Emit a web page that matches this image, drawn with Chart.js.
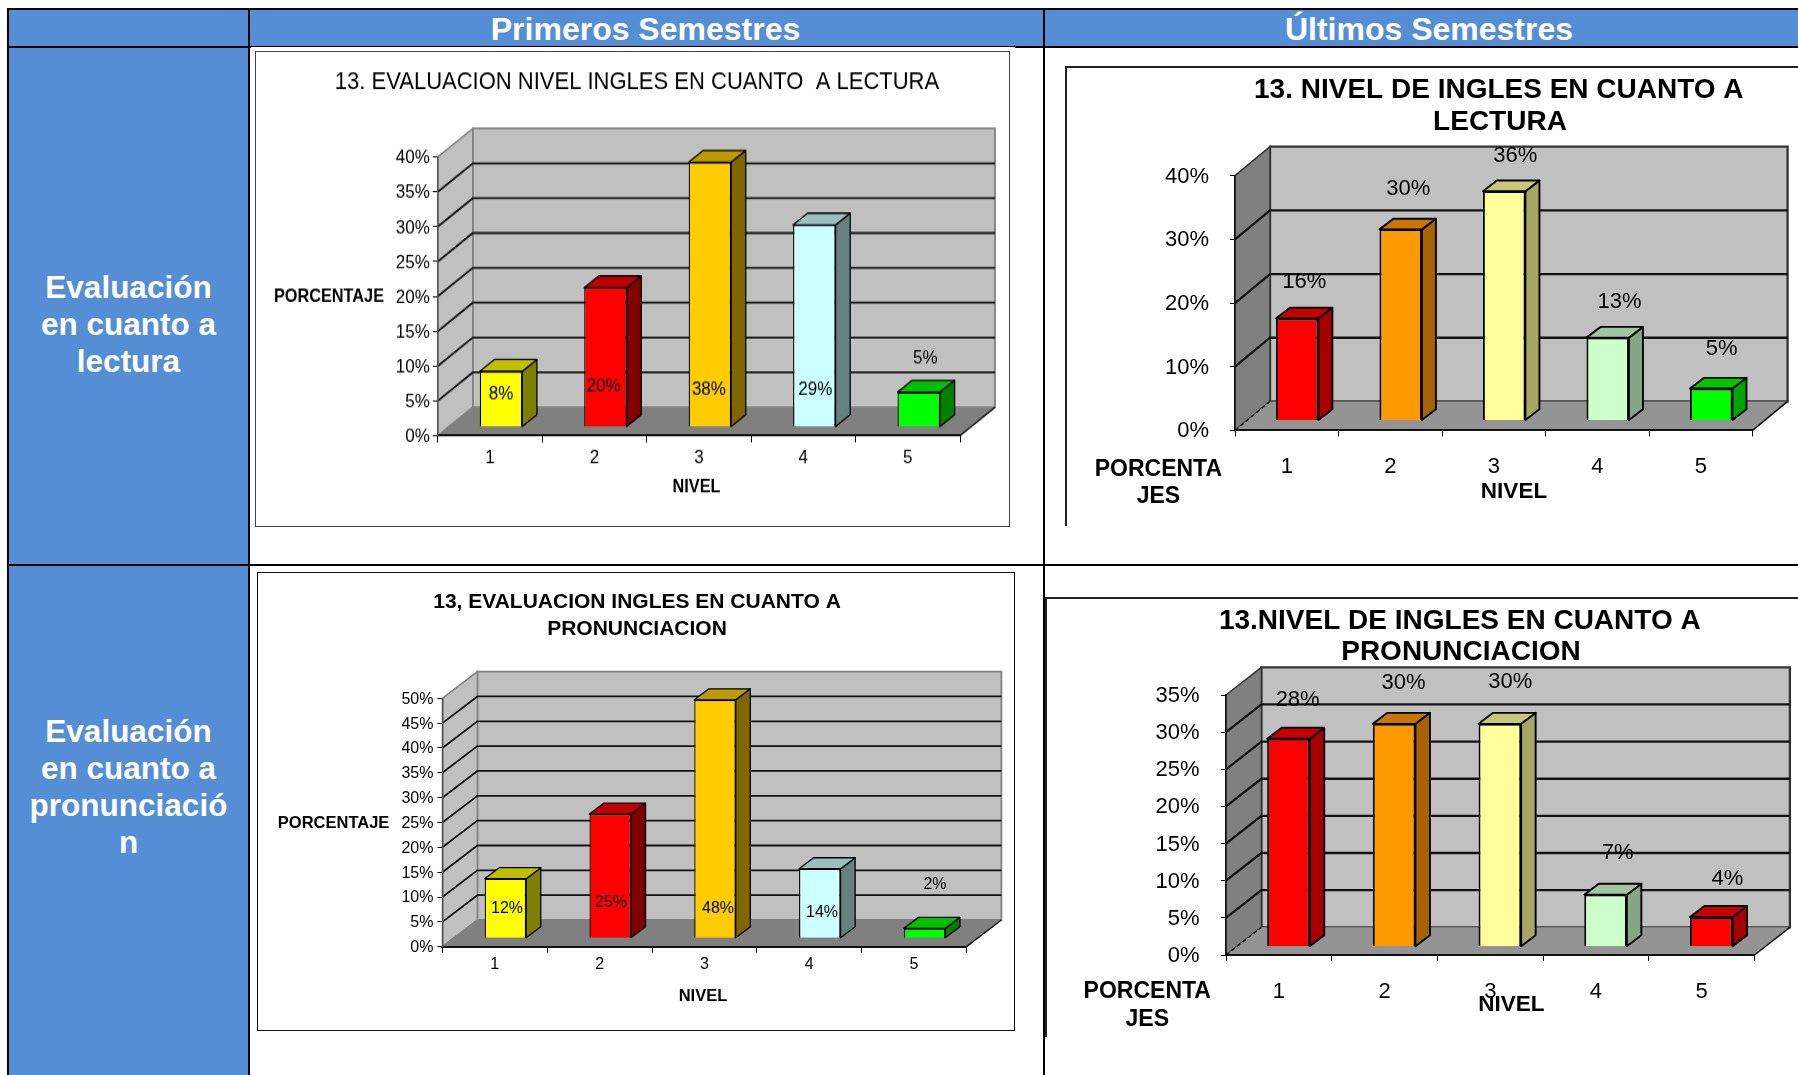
<!DOCTYPE html>
<html>
<head>
<meta charset="utf-8">
<title>Evaluación nivel de inglés</title>
<script src="https://cdn.jsdelivr.net/npm/chart.js@4/dist/chart.umd.min.js"></script>
<style>
  html, body { margin: 0; background: #fff; }
  body { position: relative; width: 1798px; height: 1075px; overflow: hidden; font-family: "Liberation Sans", Arial, sans-serif; }
  .abs { position: absolute; box-sizing: border-box; }
  .blue { background: #558ed5; }
  .ink { background: #000; }
  .head, .side { position: absolute; color: #fff; font-weight: bold; text-align: center; }
  .head { top: 10px; height: 38px; line-height: 38px; font-size: 32px; }
  .side { left: 9px; width: 239px; font-size: 31.5px; line-height: 37px; }
  canvas { position: absolute; transform-origin: 0 0; }
</style>
</head>
<body>
  <!-- table cells -->
  <div class="abs blue" style="left:8px;top:9px;width:1790px;height:39px"></div>
  <div class="abs blue" style="left:8px;top:48px;width:241px;height:1027px"></div>

  <!-- table rules -->
  <div class="abs ink" style="left:8px;top:8px;width:1790px;height:2px"></div>
  <div class="abs ink" style="left:8px;top:46px;width:1790px;height:2px"></div>
  <div class="abs ink" style="left:8px;top:564px;width:1790px;height:2px"></div>
  <div class="abs ink" style="left:7px;top:8px;width:2px;height:1067px"></div>
  <div class="abs ink" style="left:248px;top:8px;width:2px;height:1067px"></div>
  <div class="abs ink" style="left:1043px;top:8px;width:2px;height:1067px"></div>
  <div class="abs" style="left:251px;top:47px;width:764px;height:5px;background:#fff"></div>

  <div class="head" style="left:249px;width:793px">Primeros Semestres</div>
  <div class="head" style="left:1045px;width:768px">Últimos Semestres</div>
  <div class="side" style="top:269px">Evaluación<br>en cuanto a<br>lectura</div>
  <div class="side" style="top:713px">Evaluación<br>en cuanto a<br>pronunciació<br>n</div>

  <!-- chart frames -->
  <div class="abs" style="left:255px;top:51px;width:755px;height:476px;background:#fff;border:1.5px solid #444"></div>
  <div class="abs" style="left:257px;top:572px;width:758px;height:459px;background:#fff;border:1.5px solid #111"></div>
  <div class="abs" style="left:1065px;top:66px;width:733px;height:460px;background:#fff;border-top:2px solid #222;border-left:2px solid #222"></div>
  <div class="abs" style="left:1045px;top:597px;width:753px;height:440px;background:#fff;border-top:2px solid #222;border-left:2px solid #222"></div>

  <canvas id="lecturaPrimeros"></canvas>
  <canvas id="lecturaUltimos"></canvas>
  <canvas id="pronunciacionPrimeros"></canvas>
  <canvas id="pronunciacionUltimos"></canvas>

<script>
const niveles = ['1', '2', '3', '4', '5'];

// percentages per level
const lecturaPrimeros = [8, 20, 38, 29, 5];
const lecturaUltimos = [16, 30, 36, 13, 5];
const pronunciacionPrimeros = [12, 25, 48, 14, 2];
const pronunciacionUltimos = [28, 30, 30, 7, 4];

const coloresPrimeros = ['#ffff00', '#ff0000', '#ffcc00', '#ccffff', '#00ff00'];
const coloresLecturaUltimos = ['#ff0000', '#ff9900', '#ffff99', '#ccffcc', '#00ff00'];
const coloresPronunciacionUltimos = ['#ff0000', '#ff9900', '#ffff99', '#ccffcc', '#ff0000'];

const FONT = '"Liberation Sans", Arial, sans-serif';

// geometry below is in page pixels, converted to canvas pixels in buildChart
const panels = [
  {
    id: 'lecturaPrimeros', values: lecturaPrimeros, colors: coloresPrimeros,
    box: [255, 51, 755, 476], canvasHeight: 425,
    plot: [437.8, 157, 960, 435.7], max: 40, step: 5,
    depth: [35, -28.5], barShift: [11, -8.7], barDepth: [14.6, -11.8], barPct: 0.407,
    fontSize: 17, tickPadX: 3.6, tickPadY: 3, barLine: 1.3, gridLine: 1.8,
    sideWall: '#c0c0c0', floor: '#808080', wallEdge: '#808080', sideShade: 0.5, topShade: 0.75,
    labelNudge: [[0, 21.7], [-1.8, 98], [-1, 226.5], [1, 163.7], [6.5, -35]],
    captions: [
      { text: '13. EVALUACION NIVEL INGLES EN CUANTO  A LECTURA', x: 637, y: 82, font: '22px' },
      { text: 'PORCENTAJE', x: 329, y: 296.5, font: 'bold 16.3px' },
      { text: 'NIVEL', x: 696.5, y: 487, font: 'bold 16.3px' }
    ]
  },
  {
    id: 'lecturaUltimos', values: lecturaUltimos, colors: coloresLecturaUltimos,
    box: [1065, 66, 733, 460], canvasHeight: 460,
    plot: [1235, 175.7, 1752.6, 430.4], max: 40, step: 10,
    depth: [35, -29], barShift: [10.4, -10], barDepth: [14, -10.7], barPct: 0.41,
    fontSize: 22, tickPadX: 17, tickPadY: 21, barLine: 1.9, gridLine: 2.3,
    sideWall: '#808080', floor: '#949494', wallEdge: '#333333', sideShade: 0.65, topShade: 0.78,
    dashedFloor: true,
    labelNudge: [[7.2, -37.5], [7.7, -41.9], [11, -35.8], [11.9, -36.6], [10.4, -41.1]],
    captions: [
      { text: '13. NIVEL DE INGLES EN CUANTO A', x: 1498.8, y: 90.5, font: 'bold 28px' },
      { text: 'LECTURA', x: 1500, y: 122.2, font: 'bold 28px' },
      { text: 'PORCENTA', x: 1158.4, y: 470, font: 'bold 23px' },
      { text: 'JES', x: 1158.4, y: 496.7, font: 'bold 23px' },
      { text: 'NIVEL', x: 1514, y: 492, font: 'bold 22.5px' }
    ]
  },
  {
    id: 'pronunciacionPrimeros', values: pronunciacionPrimeros, colors: coloresPrimeros,
    box: [257, 572, 758, 459], canvasHeight: 459,
    plot: [442.4, 698.3, 966.4, 946.7], max: 50, step: 5,
    depth: [35, -26.7], barShift: [10.6, -8.4], barDepth: [14.6, -11], barPct: 0.396,
    fontSize: 16, tickPadX: 2.7, tickPadY: 4, barLine: 1.3, gridLine: 1.8,
    sideWall: '#c0c0c0', floor: '#808080', wallEdge: '#808080', sideShade: 0.5, topShade: 0.75,
    labelNudge: [[1.6, 29.3], [0.8, 87.9], [3, 207.9], [2.2, 43], [10.4, -44.4]],
    captions: [
      { text: '13, EVALUACION INGLES EN CUANTO A', x: 637, y: 602.7, font: 'bold 21px' },
      { text: 'PRONUNCIACION', x: 637, y: 629.3, font: 'bold 21px' },
      { text: 'PORCENTAJE', x: 333.6, y: 823.5, font: 'bold 16.5px' },
      { text: 'NIVEL', x: 703, y: 996, font: 'bold 16.5px' }
    ]
  },
  {
    id: 'pronunciacionUltimos', values: pronunciacionUltimos, colors: coloresPronunciacionUltimos,
    box: [1045, 597, 753, 440], canvasHeight: 440,
    plot: [1226, 695, 1754.5, 955], max: 35, step: 5,
    depth: [35.4, -27.7], barShift: [9.6, -8.3], barDepth: [14.5, -11], barPct: 0.403,
    fontSize: 22, tickPadX: 17.5, tickPadY: 21.5, barLine: 1.9, gridLine: 2.3,
    sideWall: '#808080', floor: '#949494', wallEdge: '#333333', sideShade: 0.65, topShade: 0.78,
    dashedFloor: true,
    labelNudge: [[9.2, -39.4], [9.3, -41.5], [10.5, -42.8], [12.1, -42.4], [16.1, -38.7]],
    captions: [
      { text: '13.NIVEL DE INGLES EN CUANTO A', x: 1459.8, y: 620.8, font: 'bold 28px' },
      { text: 'PRONUNCIACION', x: 1461, y: 652.2, font: 'bold 28px' },
      { text: 'PORCENTA', x: 1147.3, y: 992, font: 'bold 23px' },
      { text: 'JES', x: 1147.3, y: 1019.3, font: 'bold 23px' },
      { text: 'NIVEL', x: 1511.3, y: 1005, font: 'bold 22.5px' }
    ]
  }
];

function shade(hex, f) {
  const n = parseInt(hex.slice(1), 16);
  const c = [n >> 16 & 255, n >> 8 & 255, n & 255].map(v => Math.round(v * f));
  return `rgb(${c[0]},${c[1]},${c[2]})`;
}

function polygon(ctx, pts, fill, stroke, width) {
  ctx.beginPath();
  pts.forEach((p, i) => i ? ctx.lineTo(p[0], p[1]) : ctx.moveTo(p[0], p[1]));
  ctx.closePath();
  if (fill) { ctx.fillStyle = fill; ctx.fill(); }
  if (stroke) { ctx.strokeStyle = stroke; ctx.lineWidth = width || 1; ctx.stroke(); }
}

// fake 3D box: walls, floor, shifted bars with side and top faces, labels and captions
const box3d = {
  id: 'box3d',
  beforeDraw(chart, args, o) {
    const ctx = chart.ctx;
    const { left, right, top, bottom } = chart.chartArea;
    const [dx, dy] = o.depth;
    ctx.save();
    polygon(ctx, [[left + dx, top + dy], [right + dx, top + dy], [right + dx, bottom + dy], [left + dx, bottom + dy]], '#c0c0c0', o.wallEdge, o.gridLine);
    polygon(ctx, [[left, top], [left + dx, top + dy], [left + dx, bottom + dy], [left, bottom]], o.sideWall, o.wallEdge, 1.5);
    polygon(ctx, [[left, bottom], [right, bottom], [right + dx, bottom + dy], [left + dx, bottom + dy]], o.floor, null);

    // back wall grid, one line per y tick
    const y = chart.scales.y;
    ctx.strokeStyle = '#111';
    ctx.lineWidth = o.gridLine;
    y.ticks.forEach(t => {
      if (t.value === 0 || t.value === o.max) return;
      const py = y.getPixelForValue(t.value);
      ctx.beginPath();
      ctx.moveTo(left, py);
      ctx.lineTo(left + dx, py + dy);
      ctx.lineTo(right + dx, py + dy);
      ctx.stroke();
    });

    // floor edges
    ctx.lineWidth = 1.5;
    ctx.strokeStyle = '#111';
    ctx.beginPath();
    ctx.moveTo(right, bottom);
    ctx.lineTo(right + dx, bottom + dy);
    ctx.stroke();
    ctx.beginPath();
    if (o.dashedFloor) ctx.setLineDash([4, 3]);
    else ctx.strokeStyle = o.wallEdge;
    ctx.moveTo(left, bottom);
    ctx.lineTo(left + dx, bottom + dy);
    ctx.stroke();
    ctx.restore();
  },
  beforeDatasetDraw(chart, args, o) {
    const ctx = chart.ctx;
    const [sx, sy] = o.barShift;
    const [bx, by] = o.barDepth;
    ctx.save();
    ctx.translate(sx, sy);
    args.meta.data.forEach((bar, i) => {
      const { x, y, width, base } = bar.getProps(['x', 'y', 'width', 'base'], true);
      const l = x - width / 2;
      const r = x + width / 2;
      const color = o.colors[i];
      ctx.lineJoin = 'round';
      polygon(ctx, [[r, y], [r + bx, y + by], [r + bx, base + by], [r, base]], shade(color, o.sideShade), '#000', o.barLine);
      polygon(ctx, [[l, y], [r, y], [r + bx, y + by], [l + bx, y + by]], shade(color, o.topShade), '#000', o.barLine);
    });
  },
  afterDatasetDraw(chart) {
    chart.ctx.restore();
  },
  afterDraw(chart, args, o) {
    const ctx = chart.ctx;
    const [sx, sy] = o.barShift;
    ctx.save();
    ctx.fillStyle = '#000';
    ctx.textAlign = 'center';
    ctx.textBaseline = 'middle';
    ctx.font = `${o.fontSize}px ${FONT}`;
    chart.getDatasetMeta(0).data.forEach((bar, i) => {
      const { x, y } = bar.getProps(['x', 'y'], true);
      const [nx, ny] = o.labelNudge[i];
      ctx.fillText(o.values[i] + '%', x + sx + nx, y + sy + ny + 1);
    });
    o.captions.forEach(c => {
      ctx.font = `${c.font} ${FONT}`;
      ctx.fillText(c.text, c.x, c.y);
    });
    ctx.restore();
  }
};

function buildChart(p) {
  const [boxLeft, boxTop, boxW, boxH] = p.box;
  const k = boxH / p.canvasHeight;
  const canvas = document.getElementById(p.id);
  canvas.width = boxW;
  canvas.height = p.canvasHeight;
  canvas.style.left = boxLeft + 'px';
  canvas.style.top = boxTop + 'px';
  canvas.style.transform = `scaleY(${k})`;

  const toY = v => (v - boxTop) / k;
  const tickFont = { family: FONT, size: p.fontSize };
  const plotLeft = p.plot[0] - boxLeft;
  const plotRight = p.plot[2] - boxLeft;
  const plotTop = toY(p.plot[1]);
  const plotBottom = toY(p.plot[3]);
  const axisColor = p.wallEdge === '#808080' ? '#555' : '#111';

  new Chart(canvas, {
    type: 'bar',
    plugins: [box3d],
    data: {
      labels: niveles,
      datasets: [{
        data: p.values,
        backgroundColor: p.colors,
        borderColor: '#000',
        borderWidth: p.barLine,
        barPercentage: p.barPct,
        categoryPercentage: 1,
        clip: false
      }]
    },
    options: {
      responsive: false,
      animation: false,
      devicePixelRatio: 1,
      layout: { padding: { top: plotTop, right: boxW - plotRight, left: 0, bottom: 0 } },
      plugins: {
        legend: { display: false },
        title: { display: false },
        tooltip: { enabled: false },
        box3d: {
          depth: [p.depth[0], p.depth[1] / k],
          barShift: [p.barShift[0], p.barShift[1] / k],
          barDepth: [p.barDepth[0], p.barDepth[1] / k],
          max: p.max,
          colors: p.colors,
          values: p.values,
          fontSize: p.fontSize,
          barLine: p.barLine,
          gridLine: p.gridLine,
          sideWall: p.sideWall,
          floor: p.floor,
          wallEdge: p.wallEdge,
          sideShade: p.sideShade,
          topShade: p.topShade,
          dashedFloor: !!p.dashedFloor,
          labelNudge: p.labelNudge.map(n => [n[0], n[1] / k]),
          captions: p.captions.map(c => ({ text: c.text, x: c.x - boxLeft, y: toY(c.y), font: c.font }))
        }
      },
      scales: {
        x: {
          afterFit(s) { s.height = p.canvasHeight - plotBottom; },
          border: { color: '#111', width: 2 },
          grid: { drawOnChartArea: false, color: '#000', tickLength: 6, offset: true },
          ticks: { color: '#000', font: tickFont, padding: p.tickPadX, autoSkip: false, maxRotation: 0 }
        },
        y: {
          min: 0,
          max: p.max,
          afterFit(s) { s.width = plotLeft; },
          border: { color: axisColor, width: 1.5 },
          grid: { drawOnChartArea: false, color: '#000', tickLength: 5 },
          ticks: { color: '#000', font: tickFont, padding: p.tickPadY, stepSize: p.step, labelOffset: 1, callback: v => v + '%' }
        }
      }
    }
  });
}

panels.forEach(buildChart);
</script>
</body>
</html>
